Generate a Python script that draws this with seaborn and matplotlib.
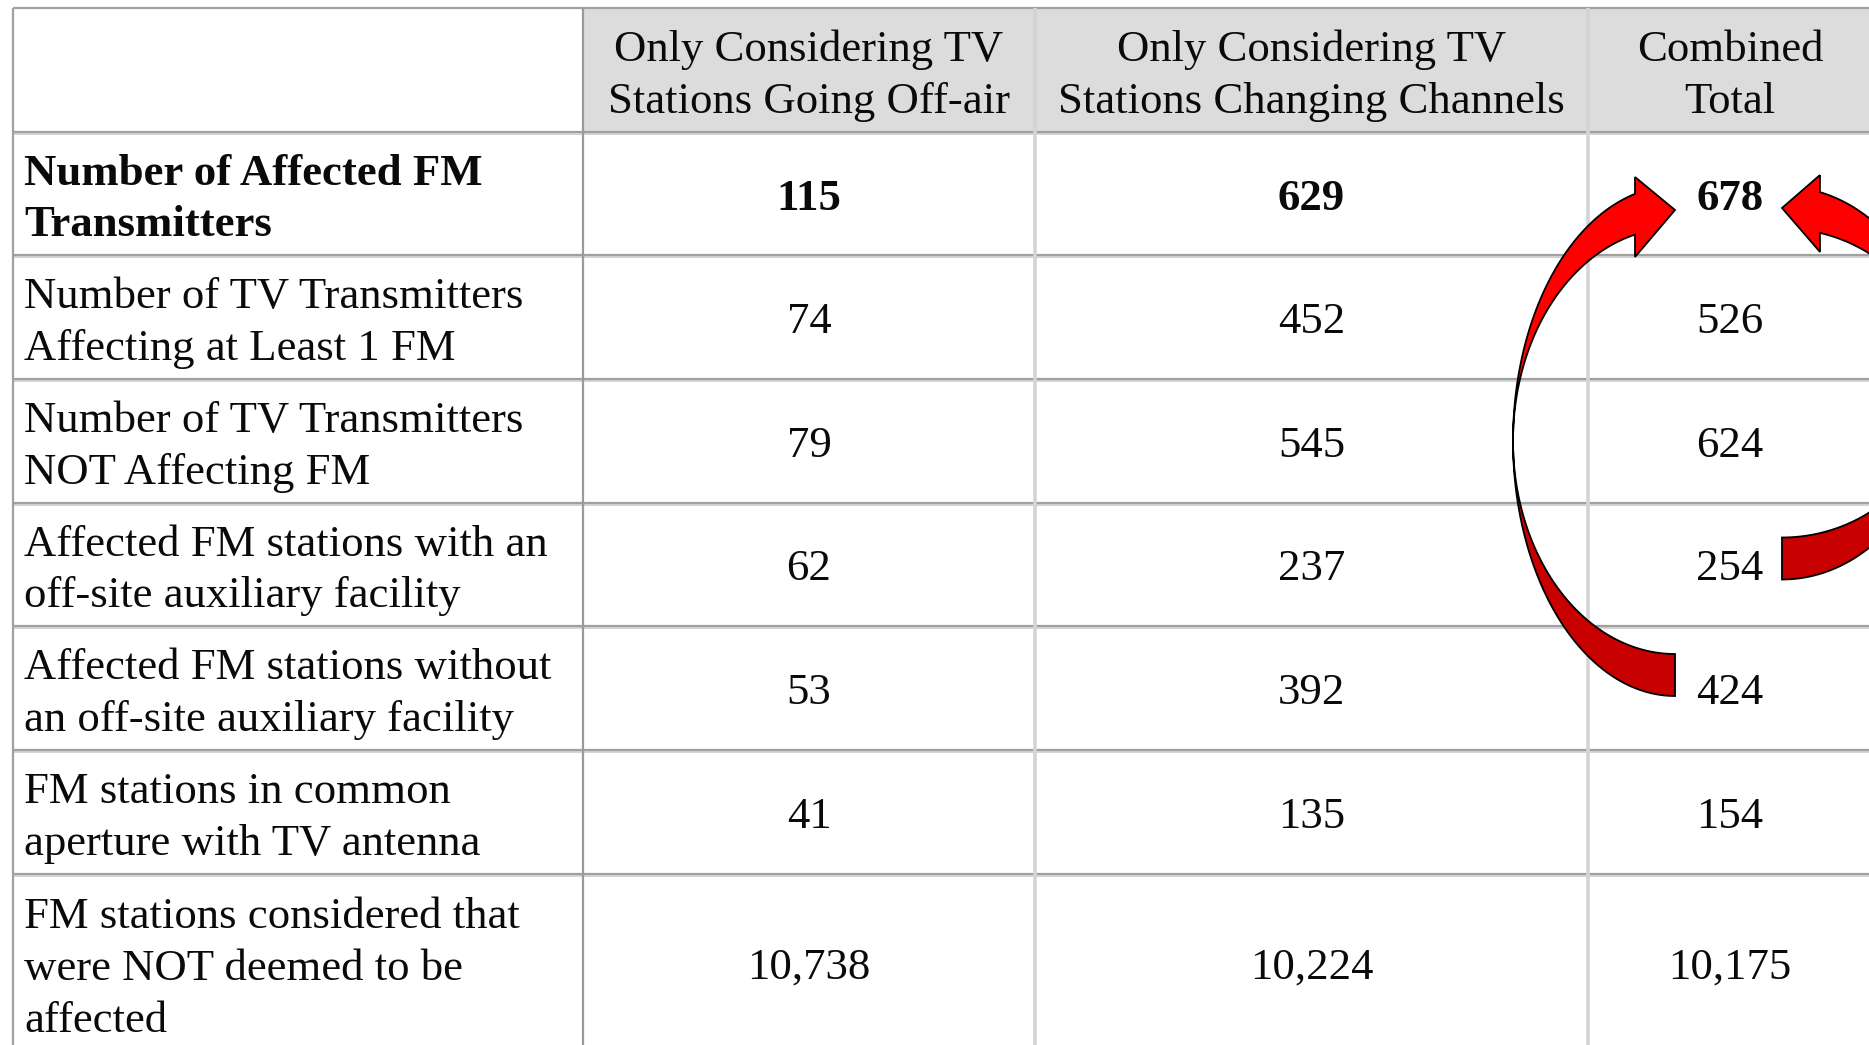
import numpy as np
import matplotlib
matplotlib.use('Agg')
import matplotlib.pyplot as plt
from matplotlib.patches import Polygon, Rectangle
import seaborn as sns

sns.set_theme(style="white")
plt.rcParams['font.family'] = ['Liberation Serif', 'DejaVu Serif']

# ── data ────────────────────────────────────────────────
col_headers = ['Only Considering TV\nStations Going Off-air',
               'Only Considering TV\nStations Changing Channels',
               'Combined\nTotal']
row_labels = ['Number of Affected FM\nTransmitters',
              'Number of TV Transmitters\nAffecting at Least 1 FM',
              'Number of TV Transmitters\nNOT Affecting FM',
              'Affected FM stations with an\noff-site auxiliary facility',
              'Affected FM stations without\nan off-site auxiliary facility',
              'FM stations in common\naperture with TV antenna',
              'FM stations considered that\nwere NOT deemed to be\naffected']
off_air = [115, 74, 79, 62, 53, 41, 10738]
changing = [629, 452, 545, 237, 392, 135, 10224]
combined = [678, 526, 624, 254, 424, 154, 10175]

# ── layout (pixels) ─────────────────────────────────────
W, H = 1869, 1045
col_edges = [13, 583, 1035, 1588, 1872]
row_edges = [8, 132, 255, 379, 503, 626, 750, 874, 1052]
FS = 32.2
LINE = 51.5
TXT = '#0a0a0a'
GRID = '#a0a0a0'
LIGHT = '#d4d4d4'
RED = '#ff0000'
DARK = '#c80000'

fig = plt.figure(figsize=(W / 100, H / 100), dpi=100)
ax = fig.add_axes([0, 0, 1, 1])
ax.set_xlim(0, W)
ax.set_ylim(H, 0)
ax.axis('off')

# header background
ax.add_patch(Rectangle((col_edges[1], row_edges[0]), col_edges[-1] - col_edges[1],
                       row_edges[1] - row_edges[0], color='#dcdcdc', zorder=0))

# grid
ax.hlines(row_edges[0], col_edges[0], W, color=GRID, lw=1.6, zorder=1)
for y in row_edges[1:-1]:
    ax.hlines(y + 2, col_edges[0], W, color=LIGHT, lw=1.4, zorder=1)
    ax.hlines(y, col_edges[0], W, color=GRID, lw=1.6, zorder=1)
ax.vlines(col_edges[0], row_edges[0], H, color=GRID, lw=1.6, zorder=1)
ax.vlines(col_edges[1], row_edges[0], H, color='#9a9a9a', lw=1.6, zorder=1)
for x in col_edges[2:4]:
    ax.vlines(x, row_edges[0], H, color=LIGHT, lw=2.6, zorder=1)


def cell_text(x, yc, text, ha, weight='normal'):
    lines = text.split('\n')
    n = len(lines)
    for k, line in enumerate(lines):
        yb = yc + 17 + (k - (n - 1) / 2) * LINE
        ax.text(x, yb, line, ha=ha, va='baseline', fontsize=FS,
                color=TXT, fontweight=weight, zorder=3)


col_centers = [(col_edges[i] + col_edges[i + 1]) / 2 for i in range(1, 4)]
hc = (row_edges[0] + row_edges[1]) / 2
for x, h in zip(col_centers, col_headers):
    cell_text(x, hc, h, 'center')

for i, label in enumerate(row_labels):
    yc = (row_edges[i + 1] + row_edges[i + 2]) / 2
    wt = 'bold' if i == 0 else 'normal'
    cell_text(24, yc, label, 'left', wt)
    for x, v in zip(col_centers, (off_air[i], changing[i], combined[i])):
        ax.text(x, yc + 16, f'{v:,}', ha='center', va='baseline', fontsize=FS,
                color=TXT, fontweight=wt, zorder=3)


# ── curved arrows ───────────────────────────────────────
def arc(cx, cy, rx, ry, t0, t1, n=120):
    t = np.radians(np.linspace(t0, t1, n))
    return np.column_stack([cx + rx * np.cos(t), cy - ry * np.sin(t)])


def curved_arrow(cx, cy, rx, ry, w, t_head, t_mid, t_tail, head):
    ro, ri = ry + w / 2, ry - w / 2
    up = np.vstack([arc(cx, cy, rx, ro, t_head, t_mid), arc(cx, cy, rx, ri, t_mid, t_head)])
    lo = np.vstack([arc(cx, cy, rx, ro, t_mid, t_tail), arc(cx, cy, rx, ri, t_tail, t_mid)])
    ax.add_patch(Polygon(up, closed=True, fc=RED, ec='none', zorder=4))
    ax.add_patch(Polygon(lo, closed=True, fc=DARK, ec='none', zorder=4))
    ax.add_patch(Polygon(head, closed=True, fc=RED, ec='none', zorder=4))
    outline = np.vstack([head,
                         arc(cx, cy, rx, ri, t_head, t_tail),
                         arc(cx, cy, rx, ro, t_tail, t_head)])
    ax.add_patch(Polygon(outline, closed=True, fill=False, ec='black', lw=1.3,
                         joinstyle='miter', zorder=5))


curved_arrow(1675, 441, 162, 234, 42, 104.3, 180, 270,
             np.array([[1635, 177], [1675, 210], [1635, 257]]))
curved_arrow(1782, 383, 160, 175.5, 42, 76.3, 0, -90,
             np.array([[1820, 175], [1782, 208], [1820, 252]]))

fig.savefig('out.png', dpi=100)
